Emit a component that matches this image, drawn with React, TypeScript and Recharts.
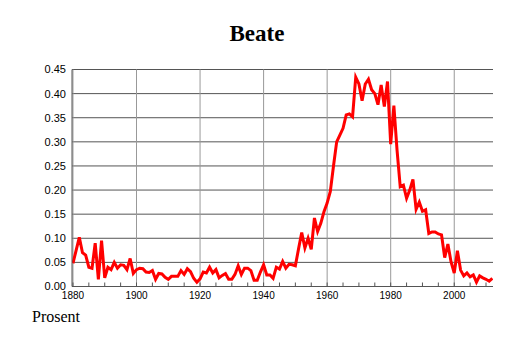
import { LineChart, Line, XAxis, YAxis, CartesianGrid, ReferenceLine } from "recharts";

const firstYear = 1880;

// share of newborns named Beate, one value per year from 1880 to 2012
const share = [
  0.048, 0.075, 0.102, 0.07, 0.065, 0.04, 0.038, 0.09, 0.015, 0.095, // 1880s
  0.018, 0.04, 0.035, 0.05, 0.038, 0.045, 0.044, 0.035, 0.058, 0.027, // 1890s
  0.035, 0.038, 0.037, 0.03, 0.029, 0.033, 0.015, 0.027, 0.026, 0.019, // 1900s
  0.015, 0.021, 0.021, 0.021, 0.033, 0.025, 0.037, 0.031, 0.017, 0.009, // 1910s
  0.016, 0.03, 0.028, 0.04, 0.028, 0.035, 0.018, 0.023, 0.027, 0.015, // 1920s
  0.015, 0.025, 0.043, 0.025, 0.038, 0.038, 0.033, 0.013, 0.013, 0.03, // 1930s
  0.045, 0.024, 0.024, 0.017, 0.04, 0.036, 0.052, 0.038, 0.046, 0.045, // 1940s
  0.043, 0.078, 0.112, 0.08, 0.1, 0.077, 0.142, 0.114, 0.131, 0.155, // 1950s
  0.173, 0.197, 0.25, 0.3, 0.314, 0.328, 0.356, 0.358, 0.352, 0.434, // 1960s
  0.42, 0.385, 0.42, 0.43, 0.408, 0.4, 0.377, 0.418, 0.373, 0.425, // 1970s
  0.295, 0.375, 0.283, 0.207, 0.21, 0.183, 0.2, 0.222, 0.16, 0.175, // 1980s
  0.156, 0.159, 0.11, 0.113, 0.113, 0.109, 0.107, 0.06, 0.088, 0.051, // 1990s
  0.028, 0.074, 0.034, 0.022, 0.028, 0.02, 0.024, 0.009, 0.022, 0.018, // 2000s
  0.015, 0.011, 0.017, // 2010s
];

const majorYears = [1880, 1900, 1920, 1940, 1960, 1980, 2000];
const minorYears = [
  1880, 1885, 1890, 1895, 1900, 1905, 1910, 1915, 1920, 1925, 1930, 1935, 1940,
  1945, 1950, 1955, 1960, 1965, 1970, 1975, 1980, 1985, 1990, 1995, 2000, 2005, 2010,
];
const yTicks = [0, 0.05, 0.1, 0.15, 0.2, 0.25, 0.3, 0.35, 0.4, 0.45];

const data = share.map((v, i) => ({ year: firstYear + i, value: v }));

const TICK_MARGIN = 5;

function YearTick(props: any) {
  const { x, y, payload } = props;
  const axisY = y - TICK_MARGIN;
  const isMajor = payload.value % 20 === 0;
  return (
    <g>
      <line x1={x} x2={x} y1={axisY} y2={axisY - 4} stroke="#555" strokeWidth={1} />
      {isMajor && (
        <text
          x={x}
          y={y}
          dy="0.71em"
          textAnchor="middle"
          fill="#000"
          fontSize={10}
          fontFamily="'Liberation Sans', Arial, sans-serif"
        >
          {payload.value}
        </text>
      )}
    </g>
  );
}

export default function App() {
  return (
    <div style={{ position: "absolute", left: 0, top: 0, width: 514, height: 343, background: "#fff" }}>
      <LineChart
        width={514}
        height={343}
        data={data}
        margin={{ top: 69.5, right: 21, left: 0, bottom: 26.5 }}
      >
        <CartesianGrid vertical={false} stroke="#555" strokeWidth={1} />
        {majorYears.map((yr) => (
          <ReferenceLine key={yr} x={yr} stroke="#999" strokeWidth={1} ifOverflow="extendDomain" />
        ))}
        <XAxis
          dataKey="year"
          type="number"
          domain={[1879.7, 2012.2]}
          allowDataOverflow
          ticks={minorYears}
          interval={0}
          tickSize={0}
          tickMargin={TICK_MARGIN}
          tickLine={false}
          tick={<YearTick />}
          axisLine={{ stroke: "#555" }}
          height={30}
        />
        <YAxis
          type="number"
          domain={[0, 0.45]}
          ticks={yTicks}
          interval={0}
          width={72}
          tickSize={0}
          tickMargin={6}
          tickLine={false}
          axisLine={{ stroke: "#555" }}
          tickFormatter={(v: number) => v.toFixed(2)}
          tick={{ fill: "#000", fontSize: 11, fontFamily: "'Liberation Sans', Arial, sans-serif" }}
        />
        <Line
          type="linear"
          dataKey="value"
          stroke="#ff0000"
          strokeWidth={3}
          dot={false}
          activeDot={false}
          isAnimationActive={false}
        />
      </LineChart>
      <svg
        width={514}
        height={343}
        style={{ position: "absolute", left: 0, top: 0, pointerEvents: "none" }}
      >
        <text
          x={257}
          y={41}
          textAnchor="middle"
          fontFamily="'Liberation Serif', 'Times New Roman', serif"
          fontWeight="bold"
          fontSize={23}
          fill="#000"
        >
          Beate
        </text>
        <text
          x={32}
          y={322}
          fontFamily="'Liberation Serif', 'Times New Roman', serif"
          fontSize={16}
          fill="#000"
        >
          Prosent
        </text>
      </svg>
    </div>
  );
}
